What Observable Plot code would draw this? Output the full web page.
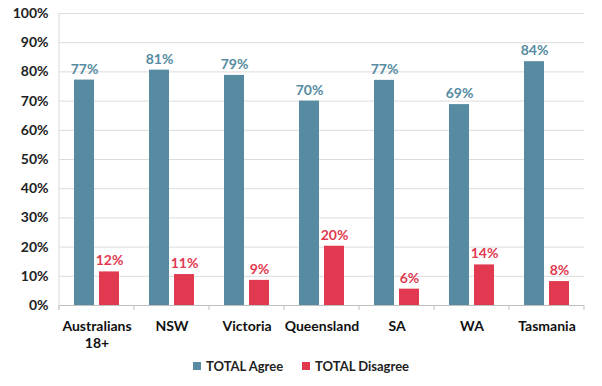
<!DOCTYPE html>
<html><head><meta charset="utf-8">
<script src="https://cdn.jsdelivr.net/npm/d3@7"></script>
<script src="https://cdn.jsdelivr.net/npm/@observablehq/plot@0.6"></script>
<style>
body{margin:0;background:#fff;font-family:Lato,sans-serif;}
#legend{display:flex;justify-content:center;gap:19px;font:bold 13px Lato,sans-serif;color:#222;margin-top:8px;}
#legend span.item{display:flex;align-items:center;gap:5px;}
#legend span.sw{width:8px;height:8px;display:inline-block;}
</style></head><body><div id="chart"></div><div id="legend"></div>
<script>
const regions = ["Australians\n18+","NSW","Victoria","Queensland","SA","WA","Tasmania"];
const series = ["TOTAL Agree","TOTAL Disagree"];
const agree = [77.2,80.6,78.8,70.0,77.1,68.8,83.5];
const disagree = [11.5,10.6,8.6,20.3,5.6,13.9,8.2];
const agreeLabels = ["77%","81%","79%","70%","77%","69%","84%"];
const disagreeLabels = ["12%","11%","9%","20%","6%","14%","8%"];
const yTicks = [0,10,20,30,40,50,60,70,80,90,100];
const colors = ["#568BA1","#E13A50"];

const data = [];
regions.forEach((r,i)=>{
  data.push({region:r, series:series[0], value:agree[i], label:agreeLabels[i]});
  data.push({region:r, series:series[1], value:disagree[i], label:disagreeLabels[i]});
});

const plot = Plot.plot({
  width:602, height:350, marginTop:13, marginBottom:45, marginLeft:58, marginRight:18,
  style:{fontFamily:"Lato, sans-serif", fontWeight:"bold", fontSize:"14px", color:"#222", background:"#fff"},
  fx:{domain:regions, padding:0, label:null, axis:null},
  x:{domain:series, paddingInner:0.2, paddingOuter:0.6, axis:null},
  y:{domain:[0,100], label:null, axis:null},
  color:{domain:series, range:colors},
  marks:[
    Plot.gridY(yTicks,{stroke:"#DCDCDC", strokeOpacity:1}),
    Plot.barY(data,{fx:"region", x:"series", y:"value", fill:"series"}),
    Plot.text(data,{fx:"region", x:"series", y:"value", text:"label", dy:-11, fill:"series", fontSize:14, fontWeight:"bold"}),
    Plot.axisY(yTicks,{tickSize:0, tickPadding:11, tickFormat:d=>d+"%", fontSize:14, fontWeight:"bold", fill:"#222", label:null}),
    Plot.axisFx({anchor:"bottom", tickSize:0, tickPadding:14, fontSize:14, fontWeight:"bold", fill:"#111", label:null, lineHeight:1.2}),
    Plot.ruleY([0],{stroke:"#BFBFBF"})
  ]
});
document.getElementById("chart").appendChild(plot);

// axis line and group separator ticks from the plot's own scales
const fx = plot.scale("fx"), y = plot.scale("y");
const svg = d3.select(plot);
const y0 = y.apply(0), y100 = y.apply(100);
const x0 = fx.apply(regions[0]);
svg.append("line").attr("x1",x0).attr("x2",x0).attr("y1",y100).attr("y2",y0+5).attr("stroke","#D9D9D9");
const bounds = regions.map(r=>fx.apply(r)).concat([fx.apply(regions[regions.length-1])+fx.bandwidth]);
bounds.forEach(b=>{
  svg.append("line").attr("x1",b).attr("x2",b).attr("y1",y0).attr("y2",y0+5).attr("stroke","#BFBFBF");
});

const lg = d3.select("#legend");
series.forEach((s,i)=>{
  const it = lg.append("span").attr("class","item");
  it.append("span").attr("class","sw").style("background",colors[i]);
  it.append("span").text(s);
});
</script>
</body></html>
